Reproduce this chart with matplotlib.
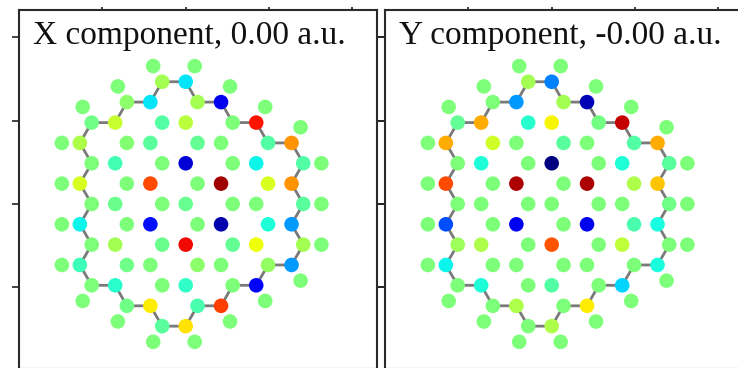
import matplotlib
matplotlib.use('Agg')
import matplotlib.pyplot as plt
import numpy as np

# carbon atoms, one list per row (angstrom)
row_y = [7.33, 6.11, 4.88, 3.66, 2.44, 1.22, 0.00, -1.22, -2.44, -3.66, -4.88, -6.11, -7.33]
row_x = [
    [-1.41, 0.00],
    [-3.53, -2.12, 0.71, 2.12],
    [-5.64, -4.23, -1.41, 0.00, 2.82, 4.23],
    [-6.35, -3.53, -2.12, 0.71, 2.12, 4.94, 6.35],
    [-5.64, -4.23, -1.41, 0.00, 2.82, 4.23, 7.05],
    [-6.35, -3.53, -2.12, 0.71, 2.12, 4.94, 6.35],
    [-5.64, -4.23, -1.41, 0.00, 2.82, 4.23, 7.05],
    [-6.35, -3.53, -2.12, 0.71, 2.12, 4.94, 6.35],
    [-5.64, -4.23, -1.41, 0.00, 2.82, 4.23, 7.05],
    [-6.35, -3.53, -2.12, 0.71, 2.12, 4.94, 6.35],
    [-5.64, -4.23, -1.41, 0.00, 2.82, 4.23],
    [-3.53, -2.12, 0.71, 2.12],
    [-1.41, 0.00],
]

# X component on each carbon
x_comp = [
    [0.10, -0.30],
    [0.04, -0.30, 0.10, -0.80],
    [-0.03, 0.18, -0.10, 0.15, 0.00, 0.78],
    [0.12, 0.02, -0.08, -0.06, 0.00, -0.10, 0.50],
    [0.00, -0.14, 0.00, -0.85, 0.00, -0.27, -0.10],
    [0.22, 0.00, 0.66, 0.00, 0.94, 0.22, 0.50],
    [0.00, -0.04, 0.00, -0.05, 0.00, 0.00, -0.08],
    [-0.27, 0.00, -0.72, 0.00, -0.92, -0.22, -0.45],
    [0.00, 0.10, -0.04, 0.80, -0.06, 0.28, 0.10],
    [-0.15, -0.03, 0.00, 0.04, 0.00, 0.06, -0.45],
    [0.00, -0.20, 0.00, -0.18, 0.00, -0.78],
    [-0.03, 0.32, -0.12, 0.68],
    [-0.08, 0.34],
]

# Y component on each carbon
y_comp = [
    [0.10, -0.50],
    [0.00, -0.45, 0.10, -0.90],
    [-0.06, 0.46, -0.20, 0.30, -0.02, 0.88],
    [0.46, 0.20, 0.00, -0.08, 0.00, -0.10, 0.46],
    [0.00, -0.22, 0.00, -1.00, 0.00, -0.22, -0.08],
    [0.66, 0.00, 0.92, 0.00, 0.92, 0.12, 0.40],
    [0.00, 0.00, 0.00, 0.00, 0.00, 0.00, -0.03],
    [-0.60, 0.00, -0.80, 0.00, -0.80, -0.12, -0.25],
    [0.08, 0.12, 0.00, 0.64, 0.00, 0.16, 0.00],
    [-0.27, 0.00, 0.00, 0.00, 0.00, 0.00, -0.24],
    [0.00, -0.22, 0.00, -0.10, 0.00, -0.33],
    [0.00, 0.12, 0.00, 0.32],
    [0.00, 0.12],
]

# hydrogen atoms on the edge
hydrogen_x = [-1.95, 0.54, -4.07, 2.66, -6.18, 4.77, 6.89, -7.43, 8.14, -7.43, 8.14,
              -7.43, 8.14, -7.43, 6.89, -6.18, 4.77, -4.07, 2.66, -1.95, 0.54]
hydrogen_y = [8.27, 8.27, 7.05, 7.05, 5.82, 5.82, 4.60, 3.66, 2.44, 1.22, 0.00,
              -1.22, -2.44, -3.66, -4.60, -5.82, -5.82, -7.05, -7.05, -8.27, -8.27]
hydrogen_comp = [0.0] * len(hydrogen_x)

# outer carbon ring (index into the flattened carbon list)
edge_path = [0, 1, 4, 5, 10, 11, 17, 18, 25, 32, 39, 46, 53, 60, 59, 66, 65, 70, 69,
             72, 71, 68, 67, 62, 61, 54, 47, 40, 33, 26, 19, 12, 6, 7, 2, 3, 0]

panel_titles = ['X component, 0.00 a.u.', 'Y component, -0.00 a.u.']

carbon_x = np.concatenate([np.array(r) for r in row_x])
carbon_y = np.concatenate([[y] * len(r) for y, r in zip(row_y, row_x)])

W, H = 738, 368
fig = plt.figure(figsize=(W / 100, H / 100), dpi=100)


def draw_panel(left_px, values, title):
    ax = fig.add_axes([left_px / W, -1 / H, 358.4 / W, 359.1 / H])
    ax.set_xlim(-10, 11.5)
    ax.set_ylim(-9.9, 11.64)

    ax.plot(carbon_x[edge_path], carbon_y[edge_path], color='#7a7a7a', lw=2.0, zorder=1)

    c_vals = np.concatenate([np.array(v) for v in values])
    ax.scatter(carbon_x, carbon_y, c=c_vals, cmap='jet', vmin=-1, vmax=1,
               s=110, linewidths=0, zorder=2)
    ax.scatter(hydrogen_x, hydrogen_y, c=hydrogen_comp, cmap='jet', vmin=-1, vmax=1,
               s=110, linewidths=0, zorder=2)

    ax.text(0.038, 0.904, title, transform=ax.transAxes, ha='left', va='baseline',
            fontsize=24, family=['Liberation Serif', 'DejaVu Serif'], color='#111111')

    ax.set_xticks([-5, 0, 5, 10])
    ax.set_yticks([-5, 0, 5, 10])
    ax.tick_params(axis='y', which='both', left=True, right=True, direction='out',
                   length=5, width=1.2, color='#222222', labelleft=False)
    ax.tick_params(axis='x', which='both', top=True, bottom=False, direction='out',
                   length=2.5, width=1.2, color='#222222', labelbottom=False)
    for sp in ax.spines.values():
        sp.set_linewidth(1.5)
        sp.set_color('#2a2a2a')
    return ax


draw_panel(19.0, x_comp, panel_titles[0])
draw_panel(385.0, y_comp, panel_titles[1])

plt.savefig('out.png', dpi=100)
